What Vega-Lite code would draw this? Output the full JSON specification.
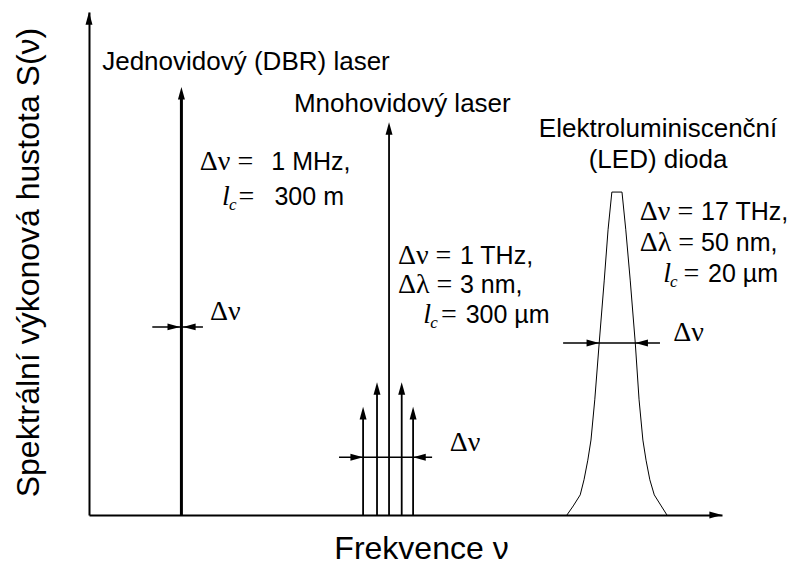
{
  "$schema": "https://vega.github.io/schema/vega-lite/v6.json",
  "width": 633,
  "height": 503,
  "autosize": {"type": "none"},
  "padding": {"left": 89, "top": 12, "right": 83, "bottom": 50},
  "background": "white",
  "config": {"view": {"stroke": null}, "font": "Liberation Sans"},
  "datasets": {
    "rules": [
      {"group": "single", "x": 14.6, "y": 0, "x2": 14.6, "y2": 83.5},
      {"group": "multi", "x": 47.4, "y": 0, "x2": 47.4, "y2": 76.5},
      {"group": "multi", "x": 43.3, "y": 0, "x2": 43.3, "y2": 20},
      {"group": "multi", "x": 45.5, "y": 0, "x2": 45.5, "y2": 25},
      {"group": "multi", "x": 49.4, "y": 0, "x2": 49.4, "y2": 25},
      {"group": "multi", "x": 51.2, "y": 0, "x2": 51.2, "y2": 20},
      {"group": "width", "x": 10.0, "y": 37.4, "x2": 18.0, "y2": 37.4},
      {"group": "width", "x": 39.5, "y": 11.5, "x2": 54.2, "y2": 11.5},
      {"group": "width", "x": 74.9, "y": 34.2, "x2": 90.2, "y2": 34.2}
    ],
    "heads": [
      {"x": 0, "y": 100, "dir": "up"},
      {"x": 100, "y": 0, "dir": "right"},
      {"x": 14.6, "y": 85.1, "dir": "up"},
      {"x": 47.4, "y": 78.1, "dir": "up"},
      {"x": 43.3, "y": 21.5, "dir": "up"},
      {"x": 45.5, "y": 26.4, "dir": "up"},
      {"x": 49.4, "y": 26.4, "dir": "up"},
      {"x": 51.2, "y": 21.5, "dir": "up"},
      {"x": 14.4, "y": 37.4, "dir": "right"},
      {"x": 14.85, "y": 37.4, "dir": "left"},
      {"x": 43.3, "y": 11.5, "dir": "right"},
      {"x": 51.2, "y": 11.5, "dir": "left"},
      {"x": 80.6, "y": 34.2, "dir": "right"},
      {"x": 86.3, "y": 34.2, "dir": "left"}
    ],
    "led": [
      {"x": 75.5, "y": 0},
      {"x": 76.5, "y": 1.8},
      {"x": 77.6, "y": 4.0},
      {"x": 78.2, "y": 7.0},
      {"x": 78.8, "y": 10.9},
      {"x": 79.3, "y": 14.9},
      {"x": 79.9, "y": 22.9},
      {"x": 80.6, "y": 34.2},
      {"x": 81.4, "y": 46.7},
      {"x": 82.0, "y": 56.7},
      {"x": 82.6, "y": 64.2},
      {"x": 84.2, "y": 64.2},
      {"x": 84.8, "y": 56.7},
      {"x": 85.5, "y": 46.7},
      {"x": 86.3, "y": 34.2},
      {"x": 86.9, "y": 22.9},
      {"x": 87.5, "y": 14.9},
      {"x": 88.0, "y": 10.9},
      {"x": 88.6, "y": 7.0},
      {"x": 89.3, "y": 4.0},
      {"x": 90.4, "y": 1.8},
      {"x": 91.3, "y": 0}
    ],
    "labels": [
      {"x": 24.8, "y": 90.1, "text": "Jednovidový (DBR) laser"},
      {"x": 49.5, "y": 81.7, "text": "Mnohovidový laser"},
      {"x": 89.9, "y": 76.7, "text": "Elektroluminiscenční"},
      {"x": 89.9, "y": 70.6, "text": "(LED) dioda"}
    ],
    "math": [
      {"x": 17.5, "y": 70.2, "text": "Δν ="},
      {"x": 23.6, "y": 63.2, "text": "="},
      {"x": 48.8, "y": 51.5, "text": "Δν ="},
      {"x": 48.8, "y": 45.7, "text": "Δλ ="},
      {"x": 55.6, "y": 39.8, "text": "="},
      {"x": 87.0, "y": 60.2, "text": "Δν ="},
      {"x": 87.0, "y": 54.1, "text": "Δλ ="},
      {"x": 93.9, "y": 47.9, "text": "="},
      {"x": 19.1, "y": 40.4, "text": "Δν"},
      {"x": 57.0, "y": 14.3, "text": "Δν"},
      {"x": 92.3, "y": 36.2, "text": "Δν"}
    ],
    "ell": [
      {"x": 21.0, "y": 63.2, "text": "l"},
      {"x": 52.8, "y": 39.8, "text": "l"},
      {"x": 90.7, "y": 47.9, "text": "l"}
    ],
    "sub": [
      {"x": 22.1, "y": 61.6, "text": "c"},
      {"x": 53.9, "y": 38.2, "text": "c"},
      {"x": 91.8, "y": 46.3, "text": "c"}
    ],
    "values": [
      {"x": 28.8, "y": 70.2, "text": "1 MHz,"},
      {"x": 29.3, "y": 63.2, "text": "300 m"},
      {"x": 58.6, "y": 51.5, "text": "1 THz,"},
      {"x": 58.6, "y": 45.7, "text": "3 nm,"},
      {"x": 59.5, "y": 39.8, "text": "300 µm"},
      {"x": 96.7, "y": 60.2, "text": "17 THz,"},
      {"x": 96.7, "y": 54.1, "text": "50 nm,"},
      {"x": 97.8, "y": 47.9, "text": "20 µm"}
    ]
  },
  "encoding": {
    "x": {
      "field": "x",
      "type": "quantitative",
      "scale": {"domain": [0, 100], "nice": false, "zero": false},
      "axis": {
        "title": "Frekvence ν",
        "domain": true,
        "domainColor": "black",
        "domainWidth": 2,
        "ticks": false,
        "labels": false,
        "grid": false,
        "titleFont": "Liberation Sans",
        "titleFontSize": 32,
        "titleFontWeight": "normal",
        "titleColor": "black",
        "titleX": 332,
        "titleY": 33,
        "titleBaseline": "middle",
        "titleAlign": "center"
      }
    },
    "y": {
      "field": "y",
      "type": "quantitative",
      "scale": {"domain": [0, 100], "nice": false, "zero": false},
      "axis": {
        "title": "Spektrální výkonová hustota S(ν)",
        "domain": true,
        "domainColor": "black",
        "domainWidth": 2,
        "ticks": false,
        "labels": false,
        "grid": false,
        "titleFont": "Liberation Sans",
        "titleFontSize": 32,
        "titleFontWeight": "normal",
        "titleColor": "black",
        "titleX": -61,
        "titleY": 250,
        "titleAngle": 270,
        "titleBaseline": "middle",
        "titleAlign": "center"
      }
    }
  },
  "layer": [
    {
      "data": {"name": "rules"},
      "transform": [{"filter": "datum.group === 'single'"}],
      "mark": {"type": "rule", "color": "black", "strokeWidth": 3},
      "encoding": {"x2": {"field": "x2"}, "y2": {"field": "y2"}}
    },
    {
      "data": {"name": "rules"},
      "transform": [{"filter": "datum.group === 'multi'"}],
      "mark": {"type": "rule", "color": "black", "strokeWidth": 1.8},
      "encoding": {"x2": {"field": "x2"}, "y2": {"field": "y2"}}
    },
    {
      "data": {"name": "rules"},
      "transform": [{"filter": "datum.group === 'width'"}],
      "mark": {"type": "rule", "color": "black", "strokeWidth": 1.5},
      "encoding": {"x2": {"field": "x2"}, "y2": {"field": "y2"}}
    },
    {
      "data": {"name": "led"},
      "mark": {"type": "line", "color": "black", "strokeWidth": 1},
      "encoding": {}
    },
    {
      "data": {"name": "heads"},
      "mark": {"type": "point", "shape": "M0,0L-0.55,2L0.55,2Z", "filled": true, "color": "black", "size": 160, "opacity": 1, "strokeWidth": 0},
      "encoding": {
        "angle": {"field": "dir", "type": "nominal", "scale": {"type": "ordinal", "domain": ["up", "right", "left"], "range": [0, 90, 270]}, "legend": null}
      }
    },
    {
      "data": {"name": "labels"},
      "mark": {"type": "text", "font": "Liberation Sans", "fontSize": 26, "align": "center", "baseline": "middle", "color": "black"},
      "encoding": {"text": {"field": "text"}}
    },
    {
      "data": {"name": "math"},
      "mark": {"type": "text", "font": "Liberation Serif", "fontSize": 28, "align": "left", "baseline": "middle", "color": "black"},
      "encoding": {"text": {"field": "text"}}
    },
    {
      "data": {"name": "ell"},
      "mark": {"type": "text", "font": "Liberation Serif", "fontStyle": "italic", "fontSize": 28, "align": "left", "baseline": "middle", "color": "black"},
      "encoding": {"text": {"field": "text"}}
    },
    {
      "data": {"name": "sub"},
      "mark": {"type": "text", "font": "Liberation Serif", "fontStyle": "italic", "fontSize": 17, "align": "left", "baseline": "middle", "color": "black"},
      "encoding": {"text": {"field": "text"}}
    },
    {
      "data": {"name": "values"},
      "mark": {"type": "text", "font": "Liberation Sans", "fontSize": 25, "align": "left", "baseline": "middle", "color": "black"},
      "encoding": {"text": {"field": "text"}}
    }
  ]
}
